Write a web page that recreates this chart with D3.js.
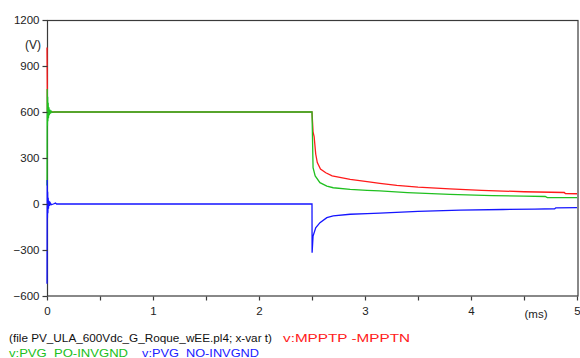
<!DOCTYPE html>
<html><head><meta charset="utf-8">
<script src="https://cdn.jsdelivr.net/npm/d3@7"></script>
<style>
html,body{margin:0;padding:0;background:#fff;}
svg{display:block;}
text{font-family:"Liberation Sans",Arial,sans-serif;}
</style></head>
<body><svg id="c" width="580" height="358"></svg>
<script>
// ---- data (t in ms, value in V) ----
const redT   = [0, 0.004, 2.5, 2.51, 2.52, 2.535, 2.55, 2.58, 2.63, 2.69, 2.86, 3.02, 3.14, 3.3, 3.5, 3.8, 4.1, 4.5, 4.88, 4.89, 5.0];
const redV   = [1020, 600, 600, 470, 440, 326, 270, 228, 204, 183, 161, 146, 135, 122, 110, 98, 89, 80, 75, 68, 67];
const greenT = [0, 0.002, 0.004, 0.006, 0.008, 0.011, 0.014, 0.018, 0.022, 0.027, 0.033, 0.04, 0.05, 0.07, 2.5, 2.51, 2.53, 2.575, 2.64, 2.70, 2.86, 3.02, 3.14, 3.4, 3.8, 4.2, 4.5, 4.7, 4.72, 5.0];
const greenV = [120, 750, 510, 700, 540, 660, 560, 630, 580, 615, 590, 605, 598, 600, 600, 237, 183, 139, 117, 106, 96, 89, 85, 74, 63, 55, 51, 49, 42, 41];
const blueT  = [0, 0.002, 0.004, 0.006, 0.008, 0.011, 0.014, 0.018, 0.024, 0.03, 0.04, 0.06, 0.08, 0.09, 2.5, 2.501, 2.51, 2.535, 2.575, 2.64, 2.70, 2.86, 3.02, 3.14, 3.5, 3.9, 4.3, 4.6, 4.79, 4.80, 5.0];
const blueV  = [-520, 157, -90, 80, -60, 40, -30, 20, -12, 8, -4, 0, 6, 0, 0, -318, -209, -155, -122, -89, -78, -67, -63, -59, -48, -40, -36, -33, -31, -25, -24];
const yTicks = [-600, -300, 0, 300, 600, 900, 1200];
const xTicks = [0, 0.5, 1, 1.5, 2, 2.5, 3, 3.5, 4, 4.5, 5];
const xLabels = [0, 1, 2, 3, 4, 5];
const seriesNames = ["v:MPPTP -MPPTN", "v:PVG  PO-INVGND", "v:PVG  NO-INVGND"];
const fileLabel = "(file PV_ULA_600Vdc_G_Roque_wEE.pl4; x-var t)";

const svg = d3.select("#c");
const x = d3.scaleLinear().domain([0, 5]).range([47, 577]);
const y = d3.scaleLinear().domain([-600, 1200]).range([296, 20]);
const axisCol = "#3a3a3a";

// traces
const series = [
  {t: redT, v: redV, c: "#ff1a1a"},
  {t: greenT, v: greenV, c: "#20c020"},
  {t: blueT, v: blueV, c: "#1515ff"}
];
const line = d3.line().x(d => x(d[0])).y(d => y(d[1]));

// frame
svg.append("rect").attr("x", 47.5).attr("y", 20.5).attr("width", 530.5).attr("height", 275.5)
  .attr("fill", "none").attr("stroke", axisCol).attr("stroke-width", 1.2);

series.forEach(s => {
  svg.append("path").datum(s.t.map((t, i) => [t, s.v[i]]))
    .attr("d", line).attr("fill", "none").attr("stroke", s.c).attr("stroke-width", 1.3);
});

// y axis
const ya = svg.append("g").attr("transform", "translate(47.5,0)")
  .call(d3.axisLeft(y).tickValues(yTicks).tickSize(5).tickPadding(3).tickFormat(d3.format("d")));
ya.select(".domain").remove();
ya.selectAll("line").attr("stroke", axisCol).attr("stroke-width", 1.2);
ya.selectAll("text").attr("fill", "#222").style("font-size", "11.5px");

// x axis
const xa = svg.append("g").attr("transform", "translate(0,296.5)")
  .call(d3.axisBottom(x).tickValues(xTicks).tickSize(4).tickPadding(6)
    .tickFormat(d => xLabels.includes(d) ? d3.format("d")(d) : ""));
xa.select(".domain").remove();
xa.selectAll("line").attr("stroke", axisCol).attr("stroke-width", 1.2);
xa.selectAll("text").attr("fill", "#222").style("font-size", "11.5px");

// unit labels
svg.append("text").attr("x", 41).attr("y", 49).attr("text-anchor", "end")
  .attr("fill", "#222").style("font-size", "12px").text("(V)");
svg.append("text").attr("x", 536).attr("y", 318).attr("text-anchor", "middle")
  .attr("fill", "#222").style("font-size", "11.5px").text("(ms)");

// legend
const lg = [
  {x: 9, y: 342, c: "#111", t: fileLabel, w: 263},
  {x: 283, y: 342, c: "#ff2020", t: seriesNames[0], w: 127},
  {x: 9, y: 357, c: "#20c020", t: seriesNames[1], w: 119},
  {x: 142, y: 357, c: "#2020ff", t: seriesNames[2], w: 117}
];
lg.forEach(d => {
  svg.append("text").attr("x", d.x).attr("y", d.y).attr("fill", d.c)
    .style("font-size", "11.5px").attr("textLength", d.w).attr("lengthAdjust", "spacingAndGlyphs")
    .attr("xml:space", "preserve").style("white-space", "pre").text(d.t);
});
</script></body></html>
